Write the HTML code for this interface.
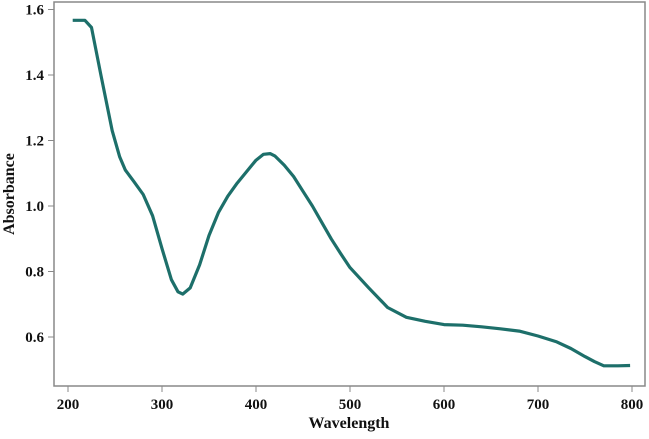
<!DOCTYPE html>
<html><head><meta charset="utf-8"><style>
body{margin:0;background:#fff}
svg text{font-family:"Liberation Serif",serif;font-weight:bold;fill:#111}
</style></head><body>
<svg width="649" height="434">
<rect x="54" y="2" width="591" height="384" fill="none" stroke="#888" stroke-width="1.5"/>
<g id="xt"></g>
<g id="yt"></g>
<path id="line" fill="none" stroke="#1d6f6a" stroke-width="3.2" stroke-linejoin="round"/>
<text x="349" y="428" text-anchor="middle" font-size="16">Wavelength</text>
<text transform="translate(14,194) rotate(-90)" text-anchor="middle" font-size="16">Absorbance</text>
</svg>
<script>
const wavelengths=[205,218,225,235,247,255,261,270,280,290,300,310,317,322,330,340,350,360,370,380,390,400,408,415,420,430,440,450,460,470,480,490,500,520,540,560,580,600,620,640,660,680,700,720,735,750,760,770,785,798];
const absorbance=[1.567,1.567,1.545,1.40,1.23,1.15,1.11,1.075,1.035,0.97,0.87,0.775,0.738,0.731,0.75,0.82,0.91,0.98,1.03,1.07,1.105,1.14,1.158,1.16,1.153,1.125,1.09,1.045,1.0,0.95,0.9,0.855,0.812,0.75,0.69,0.66,0.648,0.638,0.636,0.631,0.625,0.618,0.603,0.585,0.565,0.54,0.525,0.512,0.512,0.513];
const xTicks=[200,300,400,500,600,700,800];
const yTicks=[0.6,0.8,1.0,1.2,1.4,1.6];
const yLabels=["0.6","0.8","1.0","1.2","1.4","1.6"];
const X=w=>68+(w-200)*0.94;
const Y=v=>337-(v-0.6)*327.5;
const ns="http://www.w3.org/2000/svg";
const xt=document.getElementById('xt'),yt=document.getElementById('yt');
xTicks.forEach(t=>{
 const l=document.createElementNS(ns,'line');
 l.setAttribute('x1',X(t));l.setAttribute('x2',X(t));l.setAttribute('y1',386);l.setAttribute('y2',392);l.setAttribute('stroke','#888');
 
 
 xt.appendChild(l);
 const s=document.createElementNS(ns,'text');
 s.setAttribute('x',X(t));s.setAttribute('y',409);s.setAttribute('text-anchor','middle');s.setAttribute('font-size','15');s.textContent=t;
 
 
 xt.appendChild(s);
});
yTicks.forEach((t,i)=>{
 const l=document.createElementNS(ns,'line');
 l.setAttribute('x1',48);l.setAttribute('x2',54);l.setAttribute('y1',Y(t));l.setAttribute('y2',Y(t));l.setAttribute('stroke','#888');
 
 
 yt.appendChild(l);
 const s=document.createElementNS(ns,'text');
 s.setAttribute('x',44);s.setAttribute('y',Y(t)+5);s.setAttribute('text-anchor','end');s.setAttribute('font-size','15');s.textContent=yLabels[i];
 
 
 yt.appendChild(s);
});
document.getElementById('line').setAttribute('d',wavelengths.map((w,i)=>(i?'L':'M')+X(w).toFixed(1)+','+Y(absorbance[i]).toFixed(1)).join(''));
</script>
</body></html>
